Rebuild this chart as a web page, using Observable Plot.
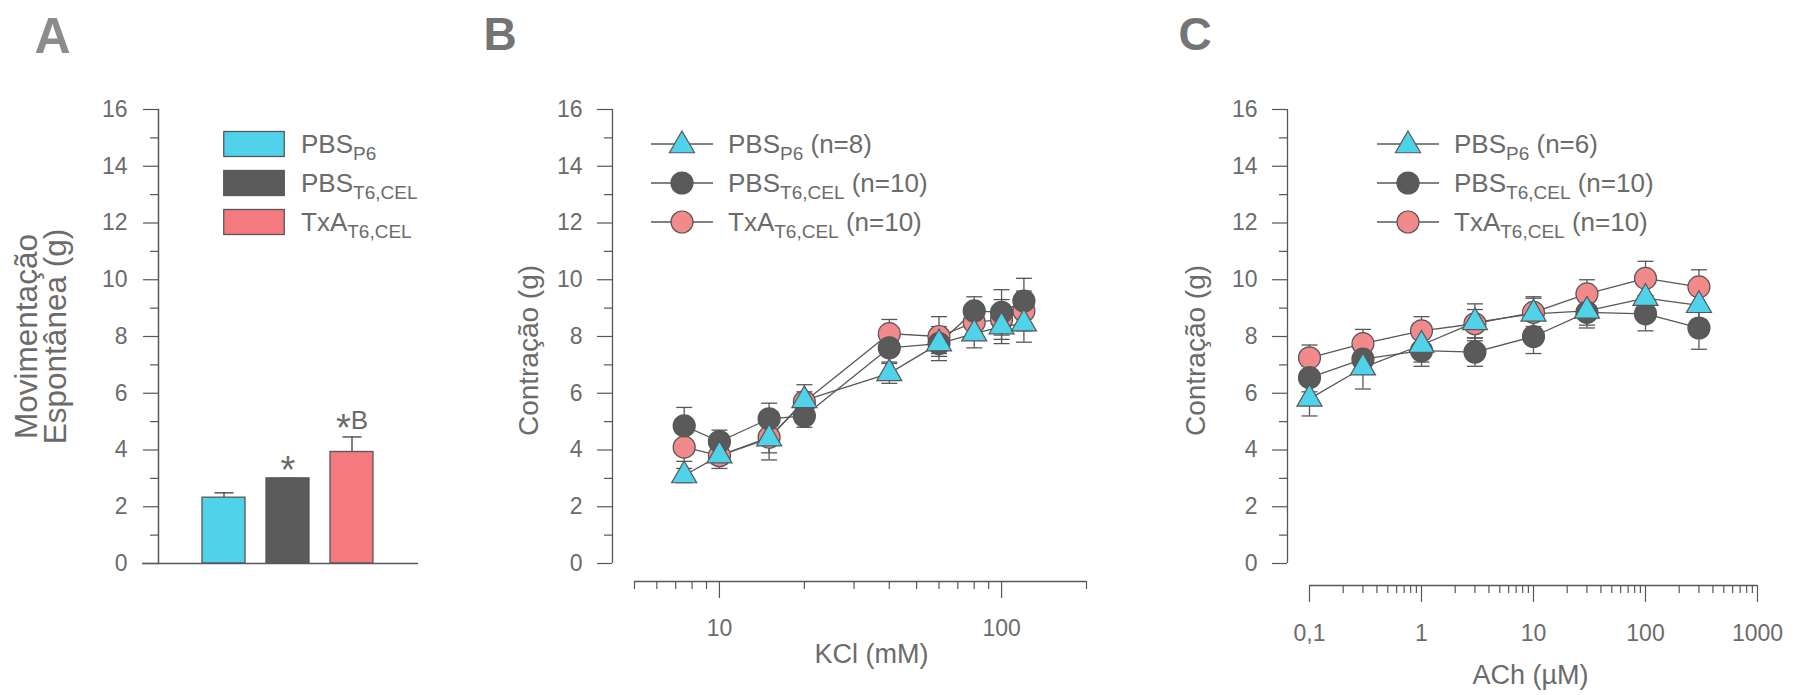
<!DOCTYPE html>
<html lang="pt">
<head>
<meta charset="utf-8">
<script src="https://cdn.jsdelivr.net/npm/d3@7"></script>
<script src="https://cdn.jsdelivr.net/npm/@observablehq/plot@0.6"></script>
<style>
  html, body { margin:0; padding:0; background:#fff; }
  #fig { position:relative; width:1793px; height:695px; overflow:hidden; background:#fff;
         font-family:"Liberation Sans", Arial, Helvetica, sans-serif; color:#6b6b6b; }
  .panel { position:absolute; top:0; }
  .panel svg { display:block; }
  .lg { position:absolute; height:30px; display:flex; align-items:center; white-space:nowrap;
        font-size:26px; color:#6b6b6b; }
  .lg svg { flex:none; }
  .lg sub { font-size:19px; vertical-align:-7px; line-height:0; }
</style>
</head>
<body>
<div id="fig"></div>
<script>
// ---------------- Panel A: spontaneous movement (bars) ----------------
const groups = ["PBS_P6", "PBS_T6,CEL", "TxA_T6,CEL"];
const groupFill = ["#4fd2ea", "#5b5b5b", "#f47a80"];
const spontMean = [2.32, 3.0, 3.93];
const spontSem = [0.17, 0.0, 0.53];
const spontSig = ["", "*", "*B"];

// ---------------- Panel B: KCl concentration-response ----------------
const kcl = [7.5, 10, 15, 20, 40, 60, 80, 100, 120];
const kclPBSP6 = [3.1, 3.8, 4.4, 5.75, 6.7, 7.75, 8.1, 8.35, 8.45];
const kclPBSP6Sem = [0.25, 0.3, 0.75, 0.3, 0.35, 0.35, 0.5, 0.6, 0.65];
const kclPBST6 = [4.85, 4.3, 5.1, 5.2, 7.6, 7.75, 8.9, 8.85, 9.25];
const kclPBST6Sem = [0.65, 0.4, 0.55, 0.4, 0.5, 0.6, 0.5, 0.8, 0.8];
const kclTxA = [4.1, 3.8, 4.45, 5.7, 8.1, 8.0, 8.5, 8.6, 8.9];
const kclTxASem = [0.5, 0.45, 0.55, 0.6, 0.5, 0.7, 0.6, 0.7, 0.7];

// ---------------- Panel C: ACh concentration-response ----------------
const ach = [0.1, 0.3, 1, 3, 10, 30, 100, 300];
const achPBSP6 = [5.8, 6.9, 7.7, 8.5, 8.8, 8.9, 9.35, 9.1];
const achPBSP6Sem = [0.6, 0.75, 0.6, 0.65, 0.6, 0.5, 0.5, 0.5];
const achPBST6 = [6.55, 7.2, 7.5, 7.45, 8.0, 8.85, 8.8, 8.3];
const achPBST6Sem = [0.5, 0.5, 0.55, 0.5, 0.6, 0.55, 0.6, 0.75];
const achTxA = [7.25, 7.75, 8.2, 8.45, 8.85, 9.5, 10.05, 9.75];
const achTxASem = [0.45, 0.5, 0.5, 0.5, 0.5, 0.5, 0.6, 0.6];

// ---------------- series / legend ----------------
const seriesNames = ["PBS_P6", "PBS_T6,CEL", "TxA_T6,CEL"];
const seriesFill = ["#4fd2ea", "#5a5a5a", "#f28a8c"];
const legendBase = ["PBS", "PBS", "TxA"];
const legendSub = ["P6", "T6,CEL", "T6,CEL"];
const legendNB = [" (n=8)", " (n=10)", " (n=10)"];
const legendNC = [" (n=6)", " (n=10)", " (n=10)"];

// ---------------- axes ----------------
const yDomain = [0, 16];
const yMajorTicks = [0, 2, 4, 6, 8, 10, 12, 14, 16];
const yMinorTicks = [1, 3, 5, 7, 9, 11, 13, 15];
const kclAxisDomain = [5, 200];
const kclMajorTicks = [10, 100];
const kclMajorLabels = ["10", "100"];
const kclMinorTicks = [5, 6, 7, 8, 9, 20, 30, 40, 50, 60, 70, 80, 90, 200];
const achAxisDomain = [0.1, 1000];
const achMajorTicks = [0.1, 1, 10, 100, 1000];
const achMajorLabels = ["0,1", "1", "10", "100", "1000"];
const achMinorTicks = [0.2, 0.3, 0.4, 0.5, 0.6, 0.7, 0.8, 0.9,
  2, 3, 4, 5, 6, 7, 8, 9, 20, 30, 40, 50, 60, 70, 80, 90,
  200, 300, 400, 500, 600, 700, 800, 900];

// ---------------- helpers ----------------
const NS = "http://www.w3.org/2000/svg";
const ink = "#575757";
const baseStyle = {
  fontFamily: '"Liberation Sans", Arial, Helvetica, sans-serif',
  fontSize: "23px", color: "#6b6b6b", background: "transparent", overflow: "visible"
};
const capSymbol = {
  draw(context, size) {
    const w = Math.sqrt(size / Math.PI);
    context.moveTo(-w, 0);
    context.lineTo(w, 0);
  }
};
function yAxisMarks(dx, pad) {
  return [
    Plot.axisY({ticks: yMajorTicks, tickSize: 15, tickPadding: pad, dx, label: null, stroke: ink, strokeWidth: 1.2}),
    Plot.axisY({ticks: yMinorTicks, tickSize: 8, tickFormat: () => "", dx, label: null, stroke: ink, strokeWidth: 1.2})
  ];
}
function rowsFor(xs, sets) {
  // drawing order: TxA first, PBS_T6,CEL, then PBS_P6 triangles on top
  return sets.flatMap(([series, means, sems]) =>
    xs.map((x, i) => ({series, x, y: means[i], sem: sems[i]})));
}

const fig = document.getElementById("fig");
function place(node, left) {
  const div = document.createElement("div");
  div.className = "panel";
  div.style.left = left + "px";
  div.appendChild(node);
  fig.appendChild(div);
}

// ---------------- Panel A ----------------
const barRows = groups.map((g, i) => ({group: g, mean: spontMean[i], sem: spontSem[i], sig: spontSig[i]}));
const plotA = Plot.plot({
  width: 460, height: 695,
  marginLeft: 142, marginRight: 42, marginTop: 109, marginBottom: 132,
  style: baseStyle,
  x: {type: "band", domain: groups, range: [202, 373.5], paddingInner: 0.33, paddingOuter: 0, axis: null},
  y: {domain: yDomain, axis: null},
  color: {domain: groups, range: groupFill},
  marks: [
    Plot.ruleX(barRows, {x: "group", y1: "mean", y2: d => d.mean + d.sem, stroke: ink, strokeWidth: 1.5}),
    Plot.dot(barRows, {x: "group", y: d => d.mean + d.sem, symbol: capSymbol, r: 9.5, fill: "none", stroke: ink, strokeWidth: 1.5}),
    Plot.barY(barRows, {x: "group", y: "mean", fill: "group", stroke: ink, strokeWidth: 1.3}),
    Plot.text(barRows, {x: "group", y: d => d.mean + d.sem, text: "sig", dy: -16, fontSize: 26, lineAnchor: "middle", className: "sig"}),
    Plot.ruleY([0], {stroke: ink, strokeWidth: 1.5}),
    Plot.frame({anchor: "left", dx: 16, stroke: ink, strokeWidth: 1.5}),
    ...yAxisMarks(16, 16),
    Plot.text(["Movimentação\nEspontânea (g)"], {frameAnchor: "left", rotate: -90, textAnchor: "middle", lineAnchor: "middle", dx: -100, fontSize: 31.5, lineHeight: 0.9}),
    Plot.text(["A"], {frameAnchor: "top-left", textAnchor: "start", lineAnchor: "top", dx: -108, dy: -92, fontSize: 50, fontWeight: "bold", fill: "#8c8c8c"})
  ]
});
// enlarge the significance asterisks (same text, bigger glyph)
plotA.querySelectorAll(".sig text, g.sig text").forEach(t => {
  const s = t.textContent;
  if (!s.startsWith("*")) return;
  t.textContent = "";
  const star = document.createElementNS(NS, "tspan");
  star.textContent = "*";
  star.setAttribute("font-size", "38");
  star.setAttribute("style", "baseline-shift:-12px");
  t.appendChild(star);
  if (s.length > 1) {
    const rest = document.createElementNS(NS, "tspan");
    rest.textContent = s.slice(1);
    t.appendChild(rest);
  }
});
place(plotA, 0);

// ---------------- Panels B and C ----------------
function curvePanel(o) {
  const rows = o.rows;
  return Plot.plot({
    width: o.width, height: 695,
    marginLeft: o.marginLeft, marginRight: o.marginRight, marginTop: 109, marginBottom: 132,
    style: baseStyle,
    x: {type: "log", domain: o.domain, axis: null},
    y: {domain: yDomain, axis: null},
    color: {domain: seriesNames, range: seriesFill},
    marks: [
      Plot.ruleY([0], {dy: o.axisDy, stroke: ink, strokeWidth: 1.3}),
      Plot.ruleX([o.domain[0]], {dx: -22, stroke: ink, strokeWidth: 1.3}),
      ...yAxisMarks(-22, 15),
      Plot.axisX({ticks: o.majorTicks, tickSize: 17, tickPadding: o.labelPad, dy: o.axisDy,
        tickFormat: d => o.majorLabels[o.majorTicks.indexOf(d)], label: null, stroke: ink, strokeWidth: 1.2}),
      Plot.axisX({ticks: o.minorTicks, tickSize: 8, tickFormat: () => "", dy: o.axisDy, label: null, stroke: ink, strokeWidth: 1.2}),
      Plot.text([o.xTitle], {frameAnchor: "bottom", textAnchor: "middle", lineAnchor: "middle", dx: o.xTitleDx, dy: o.xTitleDy, fontSize: 27}),
      Plot.text(["Contração (g)"], {frameAnchor: "left", rotate: -90, textAnchor: "middle", lineAnchor: "middle", dx: o.yTitleDx, dy: 14, fontSize: 28}),
      Plot.text([o.letter], {frameAnchor: "top-left", textAnchor: "start", lineAnchor: "top", dx: o.letterDx, dy: -92, fontSize: 46, fontWeight: "bold", fill: "#747474"}),
      Plot.line(rows, {x: "x", y: "y", z: "series", stroke: ink, strokeWidth: 1.3}),
      Plot.ruleX(rows, {x: "x", y1: d => d.y - d.sem, y2: d => d.y + d.sem, stroke: ink, strokeWidth: 1.3}),
      Plot.dot(rows, {x: "x", y: d => d.y + d.sem, symbol: capSymbol, r: 8, fill: "none", stroke: ink, strokeWidth: 1.3}),
      Plot.dot(rows, {x: "x", y: d => d.y - d.sem, symbol: capSymbol, r: 8, fill: "none", stroke: ink, strokeWidth: 1.3}),
      Plot.dot(rows, {filter: d => d.series !== "PBS_P6", x: "x", y: "y", fill: "series", r: 11, stroke: ink, strokeWidth: 1.2}),
      Plot.dot(rows, {filter: d => d.series === "PBS_P6", x: "x", y: "y", symbol: "triangle", fill: "series", r: 9.3, stroke: ink, strokeWidth: 1.2})
    ]
  });
}

const kclRows = rowsFor(kcl, [
  ["TxA_T6,CEL", kclTxA, kclTxASem],
  ["PBS_T6,CEL", kclPBST6, kclPBST6Sem],
  ["PBS_P6", kclPBSP6, kclPBSP6Sem]
]);
const achRows = rowsFor(ach, [
  ["TxA_T6,CEL", achTxA, achTxASem],
  ["PBS_T6,CEL", achPBST6, achPBST6Sem],
  ["PBS_P6", achPBSP6, achPBSP6Sem]
]);

place(curvePanel({
  rows: kclRows, width: 680, marginLeft: 174, marginRight: 54, domain: kclAxisDomain,
  majorTicks: kclMajorTicks, majorLabels: kclMajorLabels, minorTicks: kclMinorTicks,
  axisDy: 18, labelPad: 21, xTitle: "KCl (mM)", xTitleDx: 11, xTitleDy: 91,
  yTitleDx: -105, letter: "B", letterDx: -151
}), 460);

place(curvePanel({
  rows: achRows, width: 653, marginLeft: 169, marginRight: 36, domain: achAxisDomain,
  majorTicks: achMajorTicks, majorLabels: achMajorLabels, minorTicks: achMinorTicks,
  axisDy: 22, labelPad: 22, xTitle: "ACh (\u00B5M)", xTitleDx: -3, xTitleDy: 112,
  yTitleDx: -113, letter: "C", letterDx: -131
}), 1140);

// ---------------- Legends (HTML overlays) ----------------
function symbolSvg(kind, fill) {
  const svg = document.createElementNS(NS, "svg");
  svg.setAttribute("width", 62); svg.setAttribute("height", 30);
  if (kind === "swatch") {
    const r = document.createElementNS(NS, "rect");
    r.setAttribute("x", 0.75); r.setAttribute("y", 2.5); r.setAttribute("width", 60.5); r.setAttribute("height", 25);
    r.setAttribute("fill", fill); r.setAttribute("stroke", ink); r.setAttribute("stroke-width", 1.3);
    svg.appendChild(r);
    return svg;
  }
  const l = document.createElementNS(NS, "line");
  l.setAttribute("x1", 0); l.setAttribute("x2", 62); l.setAttribute("y1", 15); l.setAttribute("y2", 15);
  l.setAttribute("stroke", ink); l.setAttribute("stroke-width", 1.3);
  svg.appendChild(l);
  const p = document.createElementNS(NS, "path");
  const s = kind === "triangle" ? d3.symbol(d3.symbolTriangle, Math.PI * 9.3 * 9.3)() : d3.symbol(d3.symbolCircle, Math.PI * 11 * 11)();
  p.setAttribute("d", s);
  p.setAttribute("transform", kind === "triangle" ? "translate(31,16.5)" : "translate(31,15)");
  p.setAttribute("fill", fill); p.setAttribute("stroke", ink); p.setAttribute("stroke-width", 1.2);
  svg.appendChild(p);
  return svg;
}
function legendRow(left, centerY, sym, base, sub, suffix, gap) {
  const row = document.createElement("div");
  row.className = "lg";
  row.style.left = left + "px";
  row.style.top = (centerY - 15) + "px";
  row.appendChild(sym);
  const t = document.createElement("span");
  t.style.marginLeft = gap + "px";
  t.appendChild(document.createTextNode(base));
  const sb = document.createElement("sub");
  sb.textContent = sub;
  t.appendChild(sb);
  if (suffix) t.appendChild(document.createTextNode(suffix));
  row.appendChild(t);
  fig.appendChild(row);
}
const rowY = [144, 183, 222];
groups.forEach((g, i) => legendRow(223, rowY[i], symbolSvg("swatch", groupFill[i]), legendBase[i], legendSub[i], "", 16));
seriesNames.forEach((s, i) => legendRow(651, rowY[i], symbolSvg(i === 0 ? "triangle" : "circle", seriesFill[i]), legendBase[i], legendSub[i], legendNB[i], 15));
seriesNames.forEach((s, i) => legendRow(1377, rowY[i], symbolSvg(i === 0 ? "triangle" : "circle", seriesFill[i]), legendBase[i], legendSub[i], legendNC[i], 15));
</script>
</body>
</html>
